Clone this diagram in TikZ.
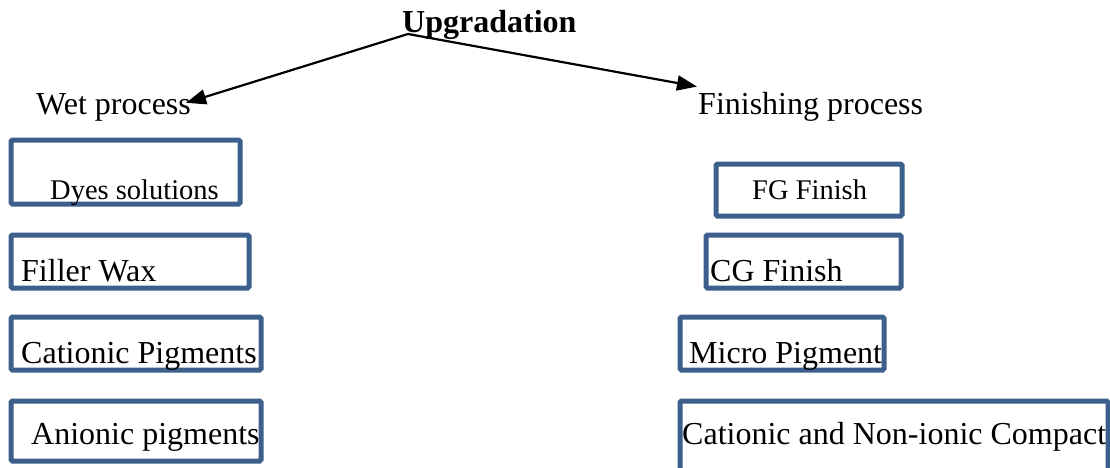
\documentclass[tikz,border=0pt]{standalone}
\usepackage{fontspec}
\setmainfont{Liberation Serif}
\usetikzlibrary{arrows.meta, positioning}

\definecolor{boxblue}{RGB}{60,95,140}
\tikzset{
    item/.style={draw=boxblue, line width=5pt, rounded corners=1.5pt, inner sep=0pt},
    lbl/.style={anchor=base west, inner sep=0pt, font=\fontsize{32}{38}\selectfont},
    smalllbl/.style={anchor=base west, inner sep=0pt, font=\fontsize{28.5}{34}\selectfont},
    head/.style={anchor=base west, inner sep=0pt, font=\fontsize{32}{38}\selectfont\bfseries},
    branch/.style={line width=2.2pt, -{Triangle[length=20pt,width=15pt]}}
}

\begin{document}
\begin{tikzpicture}[x=1pt, y=-1pt]
    \path[use as bounding box, clip] (0,0) rectangle (1110,468);

    % top and the two branches
    \draw (402,33) node[head] (upg) {Upgradation};
    \coordinate (split) at (408,34);
    \draw (36,115) node[lbl] (wet) {Wet process};
    \draw (698,115) node[lbl] (fin) {Finishing process};

    \draw[branch] (split) -- ([xshift=-5pt,yshift=-9pt]wet.north east);
    \draw[branch] (split) -- ([xshift=-1pt,yshift=6pt]fin.north west);

    % wet process boxes
    \draw (125.5,172) node[item, minimum width=229pt, minimum height=64pt] (dyes) {};
    \draw (130,261.5) node[item, minimum width=238pt, minimum height=53pt] (filler) {};
    \draw (136,343.5) node[item, minimum width=250pt, minimum height=53pt] (catpig) {};
    \draw (136,431) node[item, minimum width=250pt, minimum height=60pt] (anipig) {};

    \draw (50,199) node[smalllbl] (dyestxt) {Dyes solutions};
    \draw (21,281) node[lbl] (fillertxt) {Filler Wax};
    \draw (21,363) node[lbl] (catpigtxt) {Cationic Pigments};
    \draw (31,444) node[lbl] (anipigtxt) {Anionic pigments};

    % finishing process boxes
    \draw (809,190) node[item, minimum width=186pt, minimum height=52pt] (fg) {};
    \draw (803.5,261.5) node[item, minimum width=195pt, minimum height=53pt] (cg) {};
    \draw (782,343.5) node[item, minimum width=204pt, minimum height=53pt] (micro) {};
    \draw (894,440.5) node[item, minimum width=428pt, minimum height=79pt] (compact) {};

    \draw (752,199) node[smalllbl] (fgtxt) {FG Finish};
    \draw (710,281) node[lbl] (cgtxt) {CG Finish};
    \draw (689,363) node[lbl] (microtxt) {Micro Pigment};
    \draw (682,444) node[lbl] (compacttxt) {Cationic and Non-ionic Compact};
\end{tikzpicture}
\end{document}
